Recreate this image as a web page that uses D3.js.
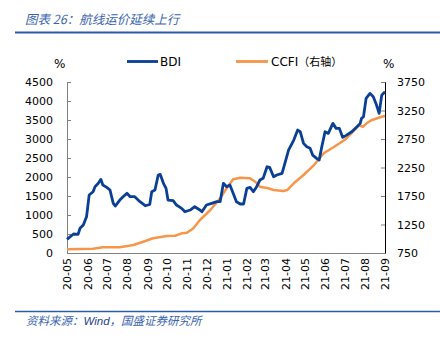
<!DOCTYPE html>
<html><head><meta charset="utf-8">
<script src="https://cdn.jsdelivr.net/npm/d3@7"></script>
<style>body{margin:0;background:#fff}svg{display:block}</style>
</head><body>
<svg id="c" width="440" height="342"></svg>
<script>
const monthTicks = ["20-05","20-06","20-07","20-08","20-09","20-10","20-11","20-12","21-01","21-02","21-03","21-04","21-05","21-06","21-07","21-08","21-09"];
const leftTicks = [0,500,1000,1500,2000,2500,3000,3500,4000,4500];
const rightTicks = [750,1250,1750,2250,2750,3250,3750];

const bdiDates = ["2020-05-01","2020-05-11","2020-05-18","2020-05-21","2020-05-26","2020-05-31","2020-06-04","2020-06-10","2020-06-13","2020-06-18","2020-06-22","2020-06-25","2020-07-01","2020-07-06","2020-07-11","2020-07-14","2020-07-21","2020-07-26","2020-08-01","2020-08-06","2020-08-13","2020-08-21","2020-08-29","2020-09-05","2020-09-08","2020-09-13","2020-09-18","2020-09-21","2020-09-26","2020-09-30","2020-10-03","2020-10-11","2020-10-16","2020-10-24","2020-10-29","2020-11-06","2020-11-13","2020-11-21","2020-11-24","2020-12-01","2020-12-09","2020-12-17","2020-12-22","2020-12-27","2021-01-01","2021-01-06","2021-01-11","2021-01-16","2021-01-22","2021-01-27","2021-02-01","2021-02-06","2021-02-11","2021-02-16","2021-02-21","2021-02-26","2021-03-04","2021-03-08","2021-03-14","2021-03-19","2021-03-27","2021-04-01","2021-04-06","2021-04-14","2021-04-20","2021-04-24","2021-04-29","2021-05-04","2021-05-09","2021-05-13","2021-05-19","2021-05-23","2021-05-27","2021-06-01","2021-06-06","2021-06-13","2021-06-18","2021-06-23","2021-06-28","2021-07-04","2021-07-12","2021-07-20","2021-07-25","2021-07-27","2021-07-30","2021-08-03","2021-08-09","2021-08-14","2021-08-19","2021-08-23","2021-08-27","2021-09-01"];
const bdiValues = [360,500,490,650,736,955,1525,1612,1744,1833,1938,1788,1728,1657,1307,1236,1394,1481,1570,1481,1481,1350,1244,1280,1612,1657,2052,2070,1833,1701,1394,1376,1262,1175,1086,1131,1218,1131,1086,1262,1307,1350,1350,1833,1744,1788,1570,1350,1289,1289,1701,1728,1612,1744,1920,1965,2270,2254,2007,2052,2096,2401,2709,2972,3235,3190,2885,2796,2754,2577,2490,2446,2796,3190,3148,3411,3280,3280,3043,3103,3190,3322,3411,3543,3585,4069,4200,4110,3892,3674,4155,4242];

const ccfiDates = ["2020-05-01","2020-06-10","2020-06-25","2020-07-21","2020-08-11","2020-08-26","2020-09-10","2020-10-01","2020-10-14","2020-10-24","2020-11-01","2020-11-11","2020-11-21","2020-12-07","2020-12-22","2021-01-01","2021-01-11","2021-01-22","2021-02-06","2021-02-14","2021-02-21","2021-03-06","2021-03-14","2021-03-29","2021-04-04","2021-04-14","2021-04-29","2021-05-15","2021-05-30","2021-06-15","2021-07-01","2021-07-16","2021-07-23","2021-07-29","2021-08-04","2021-08-11","2021-08-27","2021-09-01"];
const ccfiValues = [815,825,850,850,890,948,1008,1048,1053,1095,1106,1183,1329,1504,1709,1885,2043,2071,2060,2000,1913,1885,1855,1838,1855,1973,2118,2293,2499,2614,2732,2907,2995,2965,3025,3080,3140,3153];

const parse = d3.timeParse("%Y-%m-%d");
const bdi = bdiDates.map((d,i)=>({d:parse(d),v:bdiValues[i]}));
const ccfi = ccfiDates.map((d,i)=>({d:parse(d),v:ccfiValues[i]}));

const svg = d3.select("#c");
const L=67,R=385,T=82,B=253;
const x = d3.scaleTime().domain([parse("2020-05-01"),parse("2021-09-01")]).range([L,R]);
const yL = d3.scaleLinear().domain([0,4500]).range([B,T]);
const yR = d3.scaleLinear().domain([750,3750]).range([B,T]);
const blue="#0A3F96", orange="#F7964A", titleBlue="#3A63B0";
const font="'DejaVu Sans', Verdana, sans-serif";
const cjk="'Noto Sans CJK SC', sans-serif";

// title
svg.append("text").attr("x",25).attr("y",24).attr("font-family",cjk).attr("font-size",12.5)
  .attr("font-style","italic").attr("fill",titleBlue).text("图表 26：航线运价延续上行");
svg.append("line").attr("x1",15).attr("x2",440).attr("y1",32.5).attr("y2",32.5).attr("stroke","#2E5BA8").attr("stroke-width",2);
// footer
svg.append("line").attr("x1",15).attr("x2",440).attr("y1",311.5).attr("y2",311.5).attr("stroke","#2E5BA8").attr("stroke-width",1.5);
const ft = svg.append("text").attr("x",26).attr("y",325).attr("font-family",cjk).attr("font-size",11.5)
  .attr("font-style","italic").attr("fill",titleBlue);
ft.append("tspan").text("资料来源：");
ft.append("tspan").attr("fill","#1F3F8F").attr("font-family","'Liberation Sans', Arial, sans-serif").text("Wind");
ft.append("tspan").text("，国盛证券研究所");

// axes
const gL = svg.append("g").attr("transform",`translate(${L},0)`)
  .call(d3.axisLeft(yL).tickValues(leftTicks).tickSize(-4).tickPadding(14).tickFormat(d3.format("d")));
const gR = svg.append("g").attr("transform",`translate(${R},0)`)
  .call(d3.axisRight(yR).tickValues(rightTicks).tickSize(-4).tickPadding(12).tickFormat(d3.format("d")));
const gB = svg.append("g").attr("transform",`translate(0,${B})`)
  .call(d3.axisBottom(x).tickValues(monthTicks.map(m=>d3.timeParse("%y-%m")(m))).tickSize(0).tickFormat(d3.timeFormat("%y-%m")));
[gL,gR,gB].forEach(g=>{
  g.select(".domain").attr("stroke","#808080");
  g.selectAll(".tick line").attr("stroke","#808080");
  g.selectAll("text").attr("font-family",font).attr("font-size",11).attr("fill","#000");
});
gR.select(".domain").attr("stroke","#000");
gB.selectAll("text").attr("transform","rotate(-90)").attr("text-anchor","end")
  .attr("x",-5).attr("y",0).attr("dy","0.35em");

// lines
svg.append("path").datum(ccfi).attr("fill","none").attr("stroke",orange).attr("stroke-width",2.5)
  .attr("stroke-linejoin","round").attr("d",d3.line().x(d=>x(d.d)).y(d=>yR(d.v)));
svg.append("path").datum(bdi).attr("fill","none").attr("stroke",blue).attr("stroke-width",2.8)
  .attr("stroke-linejoin","round").attr("d",d3.line().x(d=>x(d.d)).y(d=>yL(d.v)));

// legend
svg.append("line").attr("x1",127).attr("x2",158).attr("y1",61.5).attr("y2",61.5).attr("stroke",blue).attr("stroke-width",2.8);
svg.append("text").attr("x",160).attr("y",66).attr("font-family",font).attr("font-size",12).text("BDI");
svg.append("line").attr("x1",236).attr("x2",268).attr("y1",61.5).attr("y2",61.5).attr("stroke",orange).attr("stroke-width",2.8);
const lt = svg.append("text").attr("x",271).attr("y",66).attr("font-family",font).attr("font-size",12);
lt.append("tspan").text("CCFI");
lt.append("tspan").attr("font-family",cjk).attr("font-size",11).text("（右轴）");
// % units
svg.append("text").attr("x",54).attr("y",68).attr("font-family",font).attr("font-size",12).text("%");
svg.append("text").attr("x",383).attr("y",68).attr("font-family",font).attr("font-size",12).text("%");
</script>
</body></html>
